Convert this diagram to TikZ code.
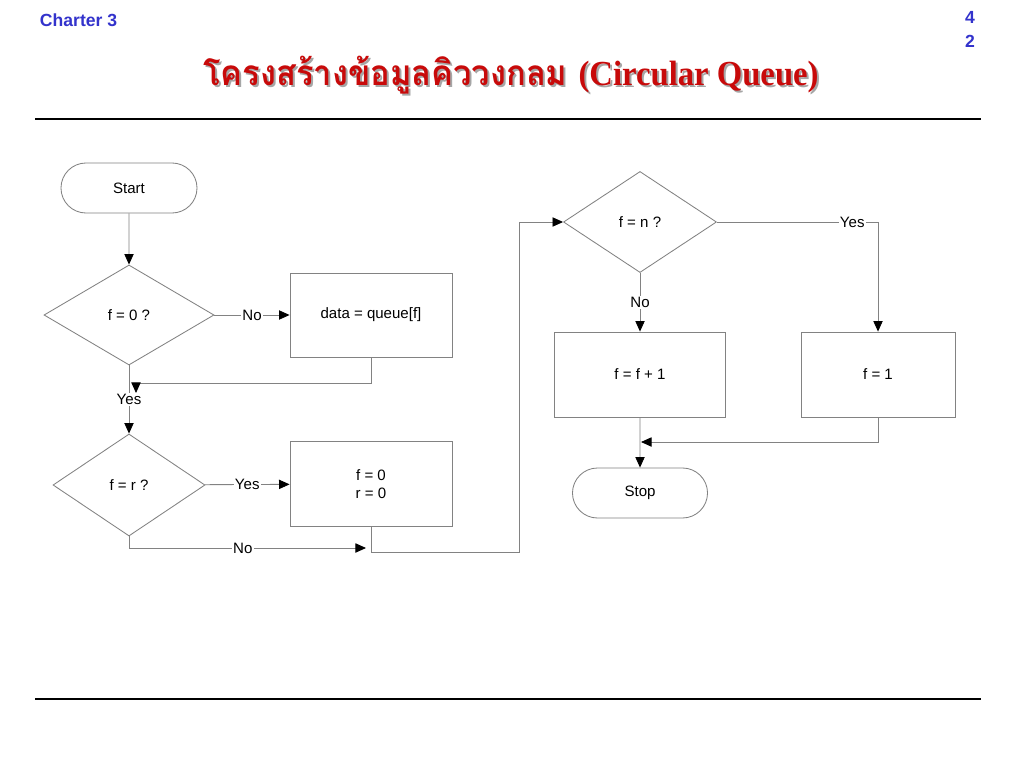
\documentclass[tikz,border=0pt]{standalone}
\usepackage{fontspec}
\usepackage{graphicx}
\setmainfont{Liberation Sans}
\newfontfamily\thaifont[Script=Thai]{Loma}
\newfontfamily\titleserif{Liberation Serif}
\usetikzlibrary{shapes.geometric,shapes.misc,arrows.meta}

\definecolor{slideblue}{RGB}{51,51,204}
\definecolor{titlered}{RGB}{200,10,10}
\definecolor{wiregray}{RGB}{130,130,130}

\newcommand{\slidetitle}{\scalebox{0.93}[1]{\thaifont\bfseries โครงสร้างข้อมูลคิววงกลม \titleserif\bfseries(Circular Queue)}}

\begin{document}
\begin{tikzpicture}[x=0.025cm,y=-0.025cm,
    every node/.style={font=\fontsize{10.7}{12.8}\selectfont},
    term/.style={draw=wiregray,line width=0.6pt,rounded rectangle,minimum width=3.4cm,minimum height=1.25cm,inner sep=0pt},
    decision/.style={draw=wiregray,line width=0.6pt,diamond,inner sep=0pt},
    proc/.style={draw=wiregray,line width=0.6pt,rectangle,inner sep=0pt,align=center},
    wire/.style={draw=wiregray,line width=0.6pt},
    flow/.style={wire,-{Triangle[length=7.5pt,width=6.6pt,color=black]}},
    tag/.style={fill=white,inner sep=1pt},
    head/.style={text=slideblue,font=\fontsize{12.5}{14}\selectfont\bfseries}]
  \useasboundingbox (0,0) rectangle (1024,768);
  \fill[white] (0,0) rectangle (1024,768);

  % header
  \node[head,anchor=west] (chapter) at (35,20) {Charter 3};
  \node[head] (pageA) at (970,17) {4};
  \node[head] (pageB) at (970,41) {2};
  \node[text=black!35,font=\fontsize{25}{30}\selectfont] (titleshade) at (513,77) {\slidetitle};
  \node[text=titlered,font=\fontsize{25}{30}\selectfont] (title) at (511,75) {\slidetitle};
  \draw[line width=0.9pt] (35,119) -- (981,119);
  \draw[line width=0.9pt] (35,699) -- (981,699);

  % flowchart
  \node[term] (start) at (129,188) {Start};
  \node[decision,minimum width=4.25cm,minimum height=2.5cm] (fzero) at (129,315) {f = 0 ?};
  \node[proc,minimum width=4.05cm,minimum height=2.1cm] (getdata) at (371,315) {data = queue[f]};
  \node[decision,minimum width=3.8cm,minimum height=2.55cm] (fequr) at (129,485) {f = r ?};
  \node[proc,minimum width=4.05cm,minimum height=2.125cm] (reset) at (371,484) {f = 0\\r = 0};
  \node[decision,minimum width=3.825cm,minimum height=2.525cm] (fequn) at (640,222) {f = n ?};
  \node[proc,minimum width=4.275cm,minimum height=2.125cm] (incf) at (640,374.5) {f = f + 1};
  \node[proc,minimum width=3.85cm,minimum height=2.125cm] (setone) at (878,374.5) {f = 1};
  \node[term,minimum width=3.375cm] (stop) at (640,493) {Stop};

  \coordinate (join1) at (136,383);
  \coordinate (noend) at (366,548);
  \coordinate (bend) at (519,552);
  \coordinate (join2) at (641,442);

  \draw[flow] (start) -- (fzero);
  \draw[flow] (fzero) -- node[tag] {No} (getdata);
  \draw[flow] (getdata.south) |- (join1) -- ++(0,10);
  \draw[flow] (fzero) -- node[tag] {Yes} (fequr);
  \draw[flow] (fequr) -- node[tag] {Yes} (reset);
  \draw[flow] (fequr.south) |- node[tag,pos=0.74] {No} (noend);
  \draw[flow] (reset.south) |- (bend) |- (fequn.west);
  \draw[flow] (fequn.east) -| node[tag,pos=0.42] {Yes} (setone.north);
  \draw[flow] (fequn) -- node[tag] {No} (incf);
  \draw[flow] (setone.south) |- (join2);
  \draw[flow] (incf) -- (stop);
\end{tikzpicture}
\end{document}
